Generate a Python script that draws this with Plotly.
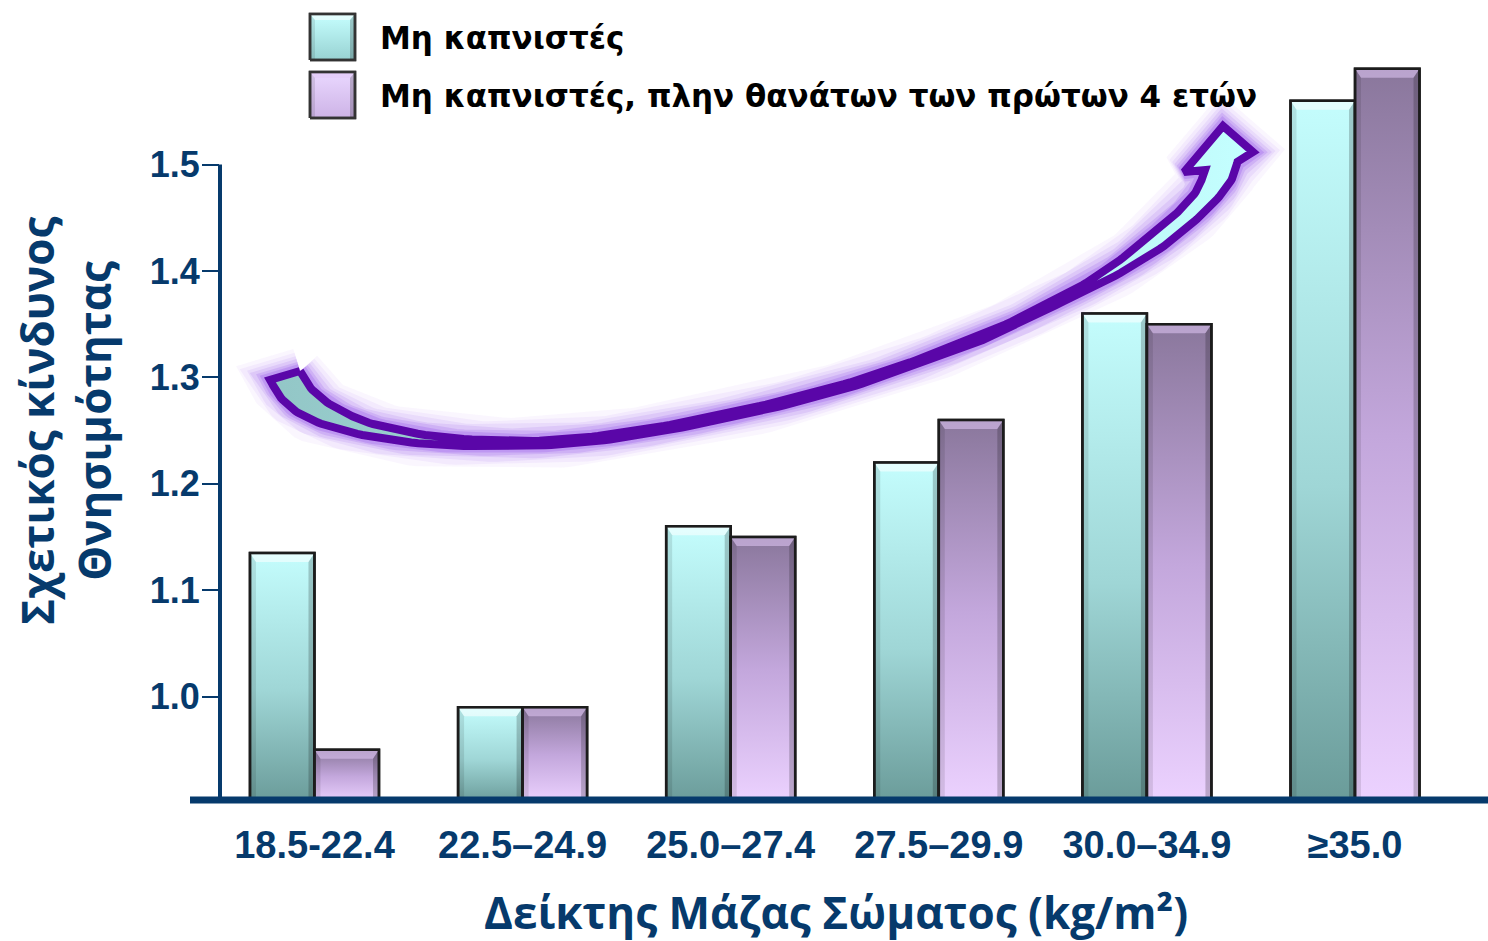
import numpy as np
import plotly.graph_objects as go

# ---- data -------------------------------------------------------------
categories = ["18.5-22.4", "22.5–24.9", "25.0–27.4", "27.5–29.9", "30.0–34.9", "≥35.0"]
nonsmokers = [1.135, 0.99, 1.16, 1.22, 1.36, 1.56]
nonsmokers_excl_4y = [0.95, 0.99, 1.15, 1.26, 1.35, 1.59]
series_names = ["Μη καπνιστές", "Μη καπνιστές, πλην θανάτων των πρώτων 4 ετών"]
y_tick_values = [1.0, 1.1, 1.2, 1.3, 1.4, 1.5]
y_title = "Σχετικός κίνδυνος<br>Θνησιμότητας"
x_title = "Δείκτης Μάζας Σώματος (kg/m²)"

# ---- geometry / style -------------------------------------------------
W, H = 1488, 941
NAVY = "#063a6c"
BASE = 0.9
X_LEFT_PX = 220          # left edge of the plotting area
Y_BOTTOM_PX = 803        # baseline of the plotting area
X_RANGE = [-0.454, 5.639]
Y_RANGE = [BASE, BASE + Y_BOTTOM_PX / 1064]
PX_X = (W - X_LEFT_PX) / (X_RANGE[1] - X_RANGE[0])
PX_Y = Y_BOTTOM_PX / (Y_RANGE[1] - Y_RANGE[0])
BAR_W = 0.31
OUTLINE = "#1c1c1c"

TEAL = [[0, "#6a9b99"], [0.45, "#9fd6d6"], [1, "#c4fdfd"]]
PURPLE = [[0, "#ecd2ff"], [0.5, "#c3a7dc"], [1, "#8a779c"]]
TEAL_TOP = "rgba(255,255,255,0.55)"
PURPLE_TOP = "rgba(225,200,245,0.55)"

fig = go.Figure()


def bevel_box(x0, x1, y0, y1, bevel_x, bevel_y, xa, ya, top_col):
    """Light top bevel and darker side bands of a 3-D looking block."""
    out = []
    bx, by = bevel_x, bevel_y
    parts = [
        ([x0, x1, x1 - bx, x0 + bx, x0], [y1, y1, y1 - by, y1 - by, y1], top_col),
        ([x0, x0 + bx, x0 + bx, x0, x0], [y0, y0, y1 - by, y1, y0], "rgba(0,0,0,0.10)"),
        ([x1, x1 - bx, x1 - bx, x1, x1], [y0, y0, y1 - by, y1, y0], "rgba(0,0,0,0.20)"),
    ]
    for xs, ys, col in parts:
        out.append(go.Scatter(x=xs, y=ys, mode="lines", fill="toself", fillcolor=col,
                              line=dict(width=0), hoverinfo="skip", showlegend=False,
                              xaxis=xa, yaxis=ya))
    return out


def add_bar(x0, x1, top, scale, top_col, name):
    fig.add_trace(go.Scatter(
        x=[x0, x1, x1, x0, x0], y=[BASE, BASE, top, top, BASE],
        mode="lines", fill="toself",
        fillgradient=dict(type="vertical", colorscale=scale, start=BASE, stop=top),
        line=dict(color=OUTLINE, width=2.5), name=name,
        hovertemplate=f"{name}<br>%{{y:.2f}}<extra></extra>", showlegend=False))
    for tr in bevel_box(x0, x1, BASE, top, 6 / PX_X, 9 / PX_Y, "x", "y", top_col):
        fig.add_trace(tr)
    fig.add_trace(go.Scatter(x=[x0, x1, x1, x0, x0], y=[BASE, BASE, top, top, BASE],
                             mode="lines", line=dict(color=OUTLINE, width=2.5),
                             hoverinfo="skip", showlegend=False))


for i, (a, b) in enumerate(zip(nonsmokers, nonsmokers_excl_4y)):
    add_bar(i - BAR_W, i, a, TEAL, TEAL_TOP, series_names[0])
    add_bar(i, i + BAR_W, b, PURPLE, PURPLE_TOP, series_names[1])

# ---- curved trend arrow, drawn in pixel units on overlay axes ----------
upper_keys = np.array([
    (300, 371), (308, 385), (325, 401), (346, 413), (373, 424), (440, 437),
    (520, 441), (580, 438), (640, 430), (700, 419), (760, 406), (820, 391),
    (880, 373), (940, 351), (1000, 327), (1052, 301), (1086, 283), (1120, 260),
    (1153, 233), (1180, 210), (1197, 190), (1205, 170)], dtype=float)
lower_keys = np.array([
    (270, 380), (281, 398), (300, 414), (328, 426), (373, 437), (440, 445),
    (520, 446), (580, 443), (640, 435), (700, 424), (760, 411), (820, 396),
    (880, 378), (940, 356), (1000, 333), (1050, 308), (1115, 276), (1164, 246),
    (1197, 219), (1219, 197), (1233, 177), (1238, 160)], dtype=float)
head_pts = np.array([(1184, 172), (1223, 126), (1253, 152)], dtype=float)


def catmull(pts, n=10):
    p = np.vstack([pts[0] * 2 - pts[1], pts, pts[-1] * 2 - pts[-2]])
    res = []
    for k in range(1, len(p) - 2):
        p0, p1, p2, p3 = p[k - 1], p[k], p[k + 1], p[k + 2]
        for t in np.linspace(0, 1, n, endpoint=False):
            t2, t3 = t * t, t * t * t
            res.append(0.5 * ((2 * p1) + (-p0 + p2) * t + (2 * p0 - 5 * p1 + 4 * p2 - p3) * t2
                              + (-p0 + 3 * p1 - 3 * p2 + p3) * t3))
    res.append(pts[-1])
    return np.array(res)


upper = catmull(upper_keys)
lower = catmull(lower_keys)
poly = np.vstack([upper, head_pts, lower[::-1], upper[:1]])

# soft purple glow around the arrow
for lw, alpha in [(46, 0.05), (38, 0.07), (31, 0.10), (25, 0.14), (19, 0.20), (14, 0.28)]:
    fig.add_trace(go.Scatter(x=poly[:, 0], y=poly[:, 1], mode="lines",
                             line=dict(color=f"rgba(150,85,235,{alpha})", width=lw),
                             hoverinfo="skip", showlegend=False, xaxis="x2", yaxis="y2"))
fig.add_trace(go.Scatter(
    x=poly[:, 0], y=poly[:, 1], mode="lines", fill="toself",
    fillgradient=dict(type="horizontal", colorscale=[[0, "#92c6c6"], [1, "#c4ffff"]],
                      start=265, stop=1250),
    line=dict(color="#5a06a8", width=8), hoverinfo="skip", showlegend=False,
    xaxis="x2", yaxis="y2"))

# ---- legend swatches ---------------------------------------------------
legend_rows = [(14, 60, [[0, "#c6ffff"], [1, "#98d2d2"]], TEAL_TOP),
               (72, 118, [[0, "#ead8ff"], [1, "#cdb3e6"]], PURPLE_TOP)]
for (ytop, ybot, scale, top_col), name in zip(legend_rows, series_names):
    x0, x1 = 310, 355
    fig.add_trace(go.Scatter(
        x=[x0, x1, x1, x0, x0], y=[ybot, ybot, ytop, ytop, ybot], mode="lines", fill="toself",
        fillgradient=dict(type="vertical", colorscale=scale, start=ytop, stop=ybot),
        line=dict(color="#333333", width=2.5), hoverinfo="skip", showlegend=False,
        xaxis="x2", yaxis="y2"))
    for tr in bevel_box(x0, x1, ybot, ytop, 5, -6, "x2", "y2", top_col):
        fig.add_trace(tr)
    fig.add_trace(go.Scatter(x=[x0, x1, x1, x0, x0], y=[ybot, ybot, ytop, ytop, ybot],
                             mode="lines", line=dict(color="#333333", width=2.5),
                             hoverinfo="skip", showlegend=False, xaxis="x2", yaxis="y2"))
    fig.add_annotation(x=378 / W, y=1 - ((ytop + ybot) / 2 + 1) / H, xref="paper", yref="paper",
                       text=name, showarrow=False, xanchor="left", yanchor="middle",
                       font=dict(family="DejaVu Sans", size=31, color="#000000", weight="bold"))

# ---- axis lines ----------------------------------------------------------
fig.add_shape(type="line", xref="x domain", yref="y", x0=0, x1=0, y0=BASE, y1=1.5,
              line=dict(color=NAVY, width=4))
fig.add_shape(type="line", xref="paper", yref="paper", x0=190 / W, x1=1,
              y0=1 - 800 / H, y1=1 - 800 / H, line=dict(color=NAVY, width=7))

fig.add_annotation(x=65 / W, y=1 - 421 / H, xref="paper", yref="paper", text=y_title,
                   textangle=-90, showarrow=False, xanchor="center", yanchor="middle",
                   font=dict(family="Open Sans", size=44, color=NAVY, weight="bold"))
fig.add_annotation(x=836 / W, y=1 - 912 / H, xref="paper", yref="paper", text=x_title,
                   showarrow=False, xanchor="center", yanchor="middle",
                   font=dict(family="Open Sans", size=44, color=NAVY, weight="bold"))

fig.update_layout(
    width=W, height=H, margin=dict(l=0, r=0, t=0, b=0),
    paper_bgcolor="white", plot_bgcolor="white", showlegend=False,
    xaxis=dict(domain=[X_LEFT_PX / W, 1], range=X_RANGE, tickvals=list(range(len(categories))),
               ticktext=categories, showgrid=False, zeroline=False, showline=False, ticks="",
               tickfont=dict(family="Liberation Sans", size=38, color=NAVY, weight="bold"),
               ticklabelstandoff=16),
    yaxis=dict(domain=[(H - Y_BOTTOM_PX) / H, 1], range=Y_RANGE, tickvals=y_tick_values,
               ticktext=[f"{v:.1f}" for v in y_tick_values], showgrid=False, zeroline=False,
               showline=False, ticks="outside", ticklen=17, tickwidth=2, tickcolor=NAVY,
               ticklabelstandoff=-5,
               tickfont=dict(family="Liberation Sans", size=36, color=NAVY, weight="bold")),
    xaxis2=dict(overlaying="x", range=[X_LEFT_PX, W], visible=False),
    yaxis2=dict(overlaying="y", range=[Y_BOTTOM_PX, 0], visible=False),
)

fig.write_html("out.html")
